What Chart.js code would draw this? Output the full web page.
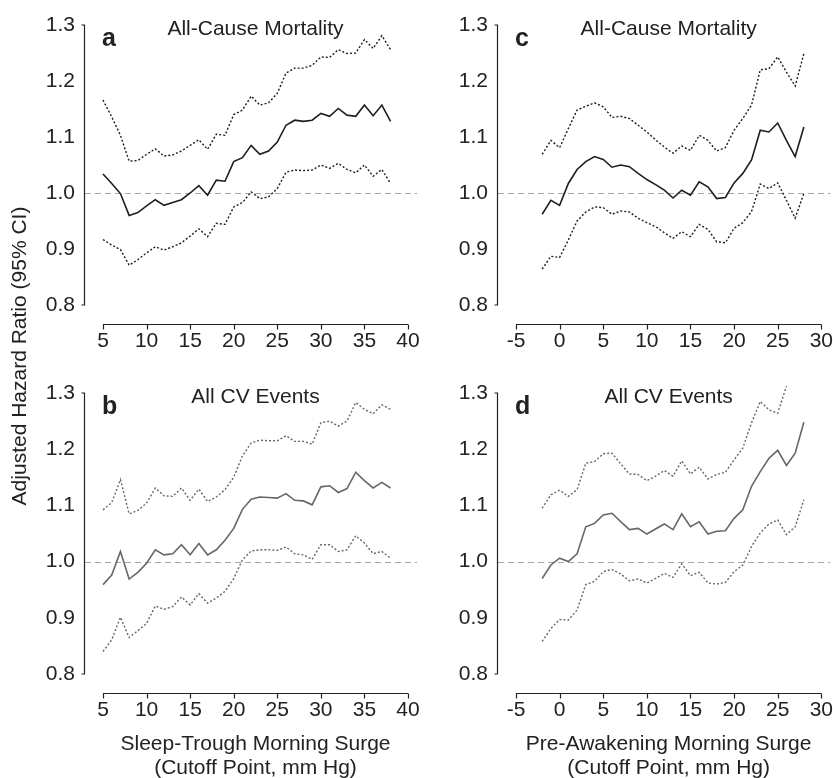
<!DOCTYPE html>
<html><head><meta charset="utf-8">
<script src="https://cdn.jsdelivr.net/npm/chart.js@4/dist/chart.umd.min.js"></script>
<style>
html,body{margin:0;padding:0;background:#fff;}
#wrap{position:relative;width:833px;height:778px;overflow:hidden;}
canvas{position:absolute;left:0;top:0;}
</style></head><body><div id="wrap">
<canvas id="pa" width="833" height="778"></canvas>
<canvas id="pb" width="833" height="778"></canvas>
<canvas id="pc" width="833" height="778"></canvas>
<canvas id="pd" width="833" height="778"></canvas>
</div>
<script>
// ---------- data ----------
const xSleepTrough = [5,6,7,8,9,10,11,12,13,14,15,16,17,18,19,20,21,22,23,24,25,26,27,28,29,30,31,32,33,34,35,36,37,38];
const xPreAwake = [-2,-1,0,1,2,3,4,5,6,7,8,9,10,11,12,13,14,15,16,17,18,19,20,21,22,23,24,25,26,27,28];

const aMid = [1.034,1.017,0.999,0.960,0.965,0.977,0.988,0.978,0.983,0.988,1.000,1.013,0.996,1.023,1.021,1.056,1.063,1.085,1.069,1.075,1.091,1.121,1.130,1.128,1.130,1.142,1.137,1.151,1.139,1.137,1.157,1.138,1.157,1.128];
const aUp  = [1.166,1.136,1.103,1.057,1.058,1.069,1.079,1.066,1.068,1.075,1.085,1.095,1.078,1.105,1.103,1.140,1.148,1.173,1.157,1.161,1.178,1.214,1.223,1.223,1.228,1.243,1.242,1.256,1.249,1.250,1.274,1.258,1.281,1.256];
const aLo  = [0.917,0.907,0.899,0.871,0.881,0.893,0.904,0.898,0.904,0.911,0.923,0.936,0.922,0.946,0.944,0.975,0.983,1.002,0.990,0.993,1.008,1.037,1.041,1.040,1.041,1.050,1.044,1.053,1.042,1.036,1.050,1.030,1.042,1.017];

const bMid = [0.959,0.976,1.018,0.969,0.981,0.997,1.021,1.012,1.014,1.030,1.012,1.032,1.012,1.021,1.038,1.059,1.093,1.111,1.115,1.114,1.113,1.121,1.109,1.108,1.101,1.133,1.135,1.123,1.130,1.159,1.144,1.131,1.141,1.131];
const bUp  = [1.092,1.105,1.146,1.085,1.091,1.104,1.131,1.117,1.116,1.131,1.109,1.129,1.107,1.115,1.128,1.150,1.188,1.211,1.216,1.215,1.215,1.224,1.214,1.214,1.209,1.247,1.250,1.241,1.250,1.283,1.271,1.263,1.279,1.271];
const bLo  = [0.840,0.861,0.901,0.865,0.877,0.890,0.921,0.915,0.920,0.937,0.923,0.943,0.926,0.935,0.947,0.970,1.003,1.019,1.021,1.021,1.020,1.026,1.014,1.012,1.004,1.030,1.030,1.018,1.021,1.046,1.033,1.014,1.018,1.006];

const cMid = [0.962,0.987,0.978,1.017,1.042,1.056,1.065,1.060,1.046,1.050,1.047,1.035,1.024,1.015,1.005,0.991,1.005,0.996,1.020,1.011,0.990,0.992,1.018,1.035,1.059,1.112,1.109,1.125,1.094,1.065,1.118];
const cUp  = [1.069,1.094,1.081,1.115,1.148,1.155,1.161,1.154,1.135,1.137,1.133,1.121,1.109,1.095,1.082,1.071,1.084,1.076,1.103,1.094,1.075,1.081,1.112,1.133,1.157,1.220,1.222,1.243,1.216,1.191,1.249];
const cLo  = [0.864,0.887,0.885,0.916,0.950,0.966,0.975,0.974,0.962,0.968,0.966,0.955,0.947,0.940,0.929,0.919,0.931,0.922,0.944,0.935,0.913,0.911,0.937,0.947,0.967,1.016,1.008,1.018,0.987,0.955,0.999];

const dMid = [0.970,0.994,1.006,1.000,1.014,1.062,1.068,1.083,1.086,1.071,1.057,1.059,1.049,1.058,1.067,1.057,1.085,1.062,1.071,1.049,1.054,1.055,1.077,1.092,1.134,1.160,1.184,1.198,1.171,1.193,1.248];
const dUp  = [1.095,1.119,1.127,1.116,1.128,1.175,1.178,1.192,1.193,1.174,1.156,1.155,1.144,1.152,1.162,1.152,1.179,1.156,1.168,1.147,1.155,1.159,1.181,1.202,1.247,1.285,1.270,1.264,1.312,null,null];
const dLo  = [0.858,0.881,0.897,0.896,0.914,0.959,0.965,0.982,0.986,0.978,0.966,0.969,0.962,0.970,0.979,0.972,0.996,0.975,0.981,0.962,0.960,0.963,0.982,0.994,1.027,1.051,1.067,1.074,1.048,1.062,1.110];

const xTicksSleep = [5,10,15,20,25,30,35,40];
const xTicksPre = [-5,0,5,10,15,20,25,30];
const yTickVals = [0.8,0.9,1.0,1.1,1.2,1.3];
const yTickLabels = ['0.8','0.9','1.0','1.1','1.2','1.3'];

const panelTitles = {a:'All-Cause Mortality', b:'All CV Events', c:'All-Cause Mortality', d:'All CV Events'};
const xTitleSleep = ['Sleep-Trough Morning Surge','(Cutoff Point, mm Hg)'];
const xTitlePre = ['Pre-Awakening Morning Surge','(Cutoff Point, mm Hg)'];
const yTitle = 'Adjusted Hazard Ratio (95% CI)';

// ---------- drawing ----------
const FONT = '"Liberation Sans", Arial, Helvetica, sans-serif';
const TXT = '#222';
const W = 833, H = 778, YW = 103, XH = 50;

function pts(xs, ys){ return xs.map((x,i)=>({x:x, y:ys[i]})); }

function makePanel(id, cfg){
  const area = cfg.area;
  const decor = {
    id:'decor'+id,
    beforeDatasetsDraw(chart){
      const {ctx, chartArea, scales:{y}} = chart;
      const ax = chartArea.left - 19;
      ctx.save();
      ctx.strokeStyle = '#a8a8a8';
      ctx.lineWidth = 1;
      ctx.setLineDash([6,4]);
      const yy = Math.round(y.getPixelForValue(1.0)) + 0.5;
      ctx.beginPath(); ctx.moveTo(ax+1, yy); ctx.lineTo(chartArea.right + 9, yy); ctx.stroke();
      ctx.restore();
    },
    afterDraw(chart){
      const {ctx, chartArea, scales:{x,y}} = chart;
      const ax = Math.round(chartArea.left - 19) + 0.5;
      const ay = Math.round(chartArea.bottom + 19) + 0.5;
      ctx.save();
      ctx.strokeStyle = '#222';
      ctx.lineWidth = 1.2;
      ctx.setLineDash([]);
      const yt = y.getPixelForValue(yTickVals[yTickVals.length-1]);
      const yb = y.getPixelForValue(yTickVals[0]);
      ctx.beginPath();
      ctx.moveTo(ax-3, yt); ctx.lineTo(ax, yt); ctx.lineTo(ax, yb); ctx.lineTo(ax-3, yb);
      ctx.stroke();
      const tv = cfg.xTicks;
      ctx.beginPath();
      ctx.moveTo(x.getPixelForValue(tv[0]), ay); ctx.lineTo(x.getPixelForValue(tv[tv.length-1]), ay);
      tv.forEach(v=>{ const px = Math.round(x.getPixelForValue(v))+0.5; ctx.moveTo(px, ay); ctx.lineTo(px, ay+5); });
      ctx.stroke();
      // panel title & letter
      ctx.fillStyle = TXT;
      ctx.font = '21px ' + FONT;
      ctx.textAlign = 'center'; ctx.textBaseline = 'middle';
      ctx.fillText(cfg.title, (chartArea.left+chartArea.right)/2, chartArea.top + 4);
      ctx.font = 'bold 25px ' + FONT;
      ctx.textAlign = 'left'; ctx.textBaseline = 'alphabetic';
      ctx.fillText(cfg.letter, chartArea.left - 1, chartArea.top + 21);
      if (cfg.xTitle){
        ctx.font = '21px ' + FONT;
        ctx.textAlign = 'center'; ctx.textBaseline = 'middle';
        const cx = (chartArea.left+chartArea.right)/2;
        ctx.fillText(cfg.xTitle[0], cx, chartArea.bottom + 70);
        ctx.fillText(cfg.xTitle[1], cx, chartArea.bottom + 94);
      }
      if (cfg.yTitle){
        ctx.font = '21px ' + FONT;
        ctx.translate(20, 356);
        ctx.rotate(-Math.PI/2);
        ctx.textAlign = 'center'; ctx.textBaseline = 'middle';
        ctx.fillText(cfg.yTitle, 0, 0);
      }
      ctx.restore();
    }
  };
  const col = cfg.color;
  return new Chart(document.getElementById(id), {
    type:'line',
    data:{ datasets:[
      {data:pts(cfg.xs, cfg.up), borderColor:col, borderWidth:1.4, borderDash:[2,2], pointRadius:0, tension:0, fill:false, clip:false},
      {data:pts(cfg.xs, cfg.lo), borderColor:col, borderWidth:1.4, borderDash:[2,2], pointRadius:0, tension:0, fill:false, clip:false},
      {data:pts(cfg.xs, cfg.mid), borderColor:col, borderWidth:1.6, pointRadius:0, tension:0, fill:false, clip:false}
    ]},
    options:{
      responsive:false, animation:false, devicePixelRatio:1,
      layout:{padding:{left:area.left - YW, right:W - area.right, top:area.top, bottom:H - area.bottom - XH}},
      plugins:{legend:{display:false}, tooltip:{enabled:false}, title:{display:false}},
      scales:{
        x:{type:'linear', min:cfg.xTicks[0], max:cfg.xTicks[cfg.xTicks.length-1],
           grid:{display:false, drawTicks:true, tickLength:24}, border:{display:false},
           afterBuildTicks:(s)=>{ s.ticks = cfg.xTicks.map(v=>({value:v})); },
           afterFit:(s)=>{ s.height = XH; },
           ticks:{autoSkip:false, maxRotation:0, minRotation:0, padding:0, color:TXT, font:{family:FONT, size:21},
                  callback:(v)=>String(v)}},
        y:{type:'linear', min:0.8, max:1.3,
           grid:{display:false, drawTicks:true, tickLength:28}, border:{display:false},
           afterBuildTicks:(s)=>{ s.ticks = yTickVals.map(v=>({value:v})); },
           afterFit:(s)=>{ s.width = YW; },
           ticks:{autoSkip:false, padding:0, color:TXT, font:{family:FONT, size:21},
                  callback:(v)=>{ const i = yTickVals.findIndex(t=>Math.abs(t-v)<1e-6); return i>=0 ? yTickLabels[i] : ''; }}}
      }
    },
    plugins:[decor]
  });
}

const DARK = '#1e1e1e', GREY = '#676767';
makePanel('pa', {xs:xSleepTrough, mid:aMid, up:aUp, lo:aLo, xTicks:xTicksSleep, color:DARK, letter:'a', title:panelTitles.a,
  area:{left:103, right:408, top:25, bottom:305}, yTitle:yTitle});
makePanel('pb', {xs:xSleepTrough, mid:bMid, up:bUp, lo:bLo, xTicks:xTicksSleep, color:GREY, letter:'b', title:panelTitles.b,
  area:{left:103, right:408, top:393, bottom:674}, xTitle:xTitleSleep});
makePanel('pc', {xs:xPreAwake, mid:cMid, up:cUp, lo:cLo, xTicks:xTicksPre, color:DARK, letter:'c', title:panelTitles.c,
  area:{left:516, right:822, top:25, bottom:305}});
makePanel('pd', {xs:xPreAwake, mid:dMid, up:dUp, lo:dLo, xTicks:xTicksPre, color:GREY, letter:'d', title:panelTitles.d,
  area:{left:516, right:822, top:393, bottom:674}, xTitle:xTitlePre});
</script>
</body></html>
